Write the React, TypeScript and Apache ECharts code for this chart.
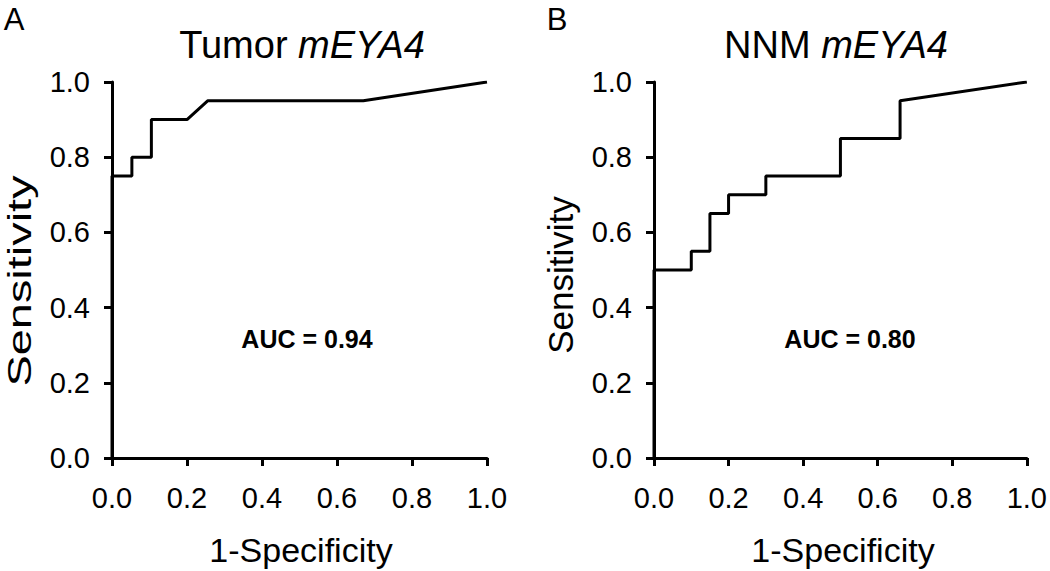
import React, { useEffect, useRef } from "react";
import * as echarts from "echarts";

const tumorFpr = [0, 0, 0.053, 0.053, 0.105, 0.105, 0.2, 0.255, 0.67, 1.0];
const tumorTpr = [0, 0.75, 0.75, 0.8, 0.8, 0.9, 0.9, 0.95, 0.95, 1.0];
const nnmFpr = [0, 0, 0.1, 0.1, 0.15, 0.15, 0.2, 0.2, 0.3, 0.3, 0.5, 0.5, 0.66, 0.66, 1.0];
const nnmTpr = [0, 0.5, 0.5, 0.55, 0.55, 0.65, 0.65, 0.7, 0.7, 0.75, 0.75, 0.85, 0.85, 0.95, 1.0];
const aucLabels = ["AUC = 0.94", "AUC = 0.80"];
const panelTitles = [
  ["Tumor ", "mEYA4"],
  ["NNM ", "mEYA4"],
];
const panelLetters = ["A", "B"];

const FONT = "'Liberation Sans', Arial, Helvetica, sans-serif";

export default function App() {
  const ref = useRef<HTMLDivElement>(null);
  useEffect(() => {
    if (!ref.current) return;
    const chart = echarts.init(ref.current, undefined, { renderer: "svg" });
    const grids = [
      { left: 112, top: 82, width: 375, height: 376 },
      { left: 654, top: 82, width: 377, height: 376 },
    ];
    const axisCommon = {
      type: "value",
      min: 0,
      max: 1,
      interval: 0.2,
      splitLine: { show: false },
      axisLine: { show: true, lineStyle: { color: "#000", width: 3 } },
      axisTick: { show: true, inside: false, length: 8, lineStyle: { color: "#000", width: 3 } },
      axisLabel: {
        color: "#000",
        fontSize: 29,
        fontFamily: FONT,
        formatter: (v: number) => v.toFixed(1),
      },
    };
    const xAxes = [0, 1].map((i) => ({
      ...axisCommon,
      gridIndex: i,
      axisLabel: { ...axisCommon.axisLabel, margin: 25 },
    }));
    const yAxes = [0, 1].map((i) => ({
      ...axisCommon,
      gridIndex: i,
      axisLabel: { ...axisCommon.axisLabel, margin: 22 },
    }));
    const toPts = (xs: number[], ys: number[]) => xs.map((x, i) => [x, ys[i]]);
    const series = [toPts(tumorFpr, tumorTpr), toPts(nnmFpr, nnmTpr)].map((d, i) => ({
      type: "line",
      xAxisIndex: i,
      yAxisIndex: i,
      data: d,
      symbol: "none",
      lineStyle: { color: "#000", width: 3 },
      silent: true,
    }));

    const textEl = (
      text: string,
      x: number,
      y: number,
      fontSize: number,
      extra: any = {},
      styleExtra: any = {}
    ) => ({
      type: "text",
      x,
      y,
      ...extra,
      style: {
        text,
        fill: "#000",
        fontSize,
        fontFamily: FONT,
        align: "center",
        verticalAlign: "middle",
        textAlign: "center",
        textVerticalAlign: "middle",
        ...styleExtra,
      },
    });

    const titleEl = (parts: string[], x: number) => ({
      type: "text",
      x,
      y: 45,
      style: {
        text: `{n|${parts[0]}}{i|${parts[1]}}`,
        align: "center",
        verticalAlign: "middle",
        textAlign: "center",
        textVerticalAlign: "middle",
        fill: "#000",
        rich: {
          n: { fontSize: 38, fontFamily: FONT, color: "#000" },
          i: { fontSize: 38, fontFamily: FONT, fontStyle: "italic", color: "#000" },
        },
      },
    });

    const graphic = [
      textEl(panelLetters[0], 14, 19, 31),
      textEl(panelLetters[1], 557, 19, 31),
      titleEl(panelTitles[0], 302),
      titleEl(panelTitles[1], 836),
      textEl(aucLabels[0], 307, 339, 25, {}, { fontWeight: "bold" }),
      textEl(aucLabels[1], 850, 339, 25, {}, { fontWeight: "bold" }),
      textEl("1-Specificity", 301, 550, 34),
      textEl("1-Specificity", 843, 550, 34),
      textEl("Sensitivity", 19, 281, 34, { rotation: Math.PI / 2, scaleX: 1.38 }),
      textEl("Sensitivity", 560, 275, 35, { rotation: Math.PI / 2 }),
    ];

    chart.setOption({
      animation: false,
      backgroundColor: "#fff",
      grid: grids,
      xAxis: xAxes,
      yAxis: yAxes,
      series,
      graphic,
    });
    return () => chart.dispose();
  }, []);
  return (
    <div
      ref={ref}
      style={{ position: "fixed", left: 0, top: 0, width: 1050, height: 571, background: "#fff" }}
    />
  );
}
